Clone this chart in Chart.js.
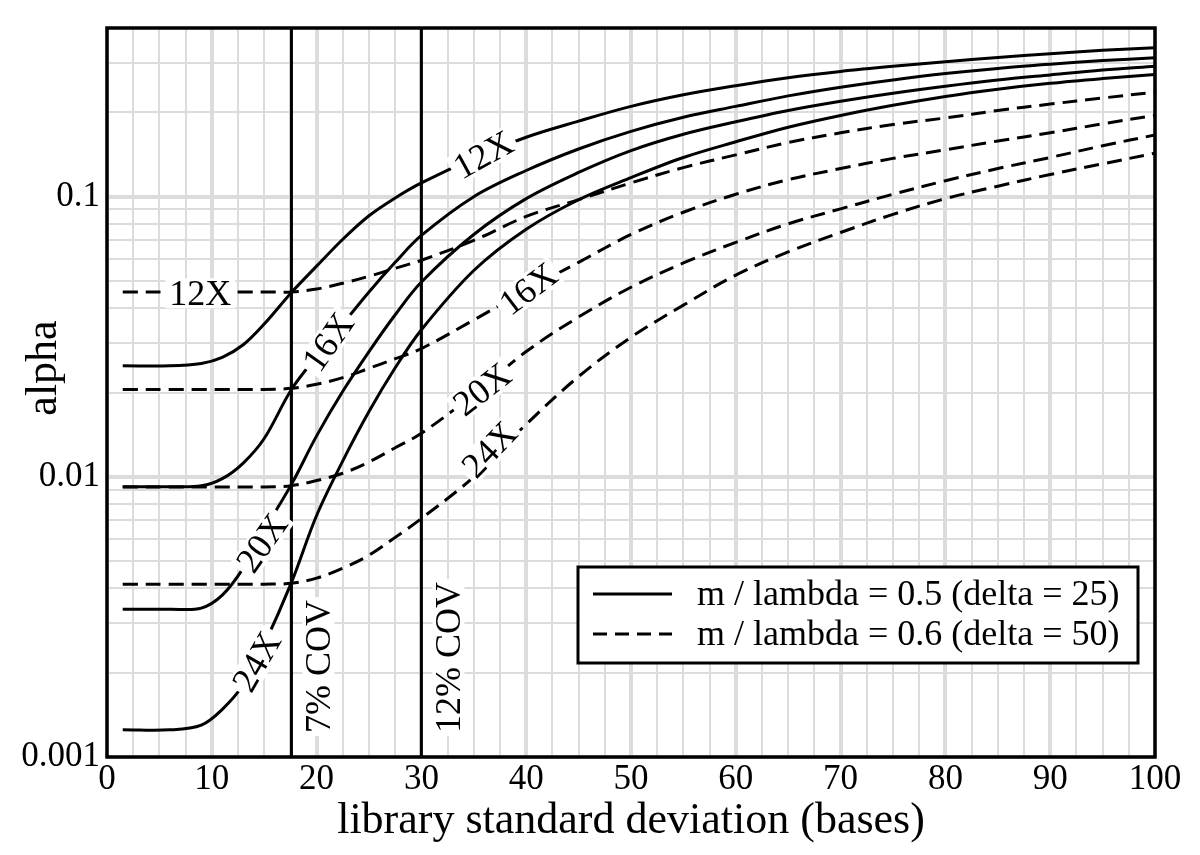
<!DOCTYPE html>
<html>
<head>
<meta charset="utf-8">
<script src="https://cdn.jsdelivr.net/npm/chart.js@4"></script>
<style>
  html, body { margin: 0; padding: 0; background: #fff; }
</style>
</head>
<body>
<canvas id="alphaChart" width="1200" height="855"></canvas>
<script>
// library standard deviation (bases) where each curve was read
const sdValues = [1.5, 6, 9, 11, 13, 15, 17.6, 20, 22.5, 25, 27.5, 30, 35, 40, 45, 50, 55, 60, 65, 70, 75, 80, 85, 90, 95, 100];

// m / lambda = 0.5 (delta = 25) -- solid
const solid12x = [0.0249, 0.0249, 0.0254, 0.0267, 0.0296, 0.0351, 0.0455, 0.0565, 0.0705, 0.0855, 0.099, 0.112, 0.137, 0.163, 0.186, 0.210, 0.231, 0.249, 0.266, 0.280, 0.292, 0.303, 0.314, 0.324, 0.333, 0.340];
const solid16x = [0.00922, 0.00922, 0.00929, 0.00985, 0.0112, 0.0137, 0.0205, 0.0269, 0.0351, 0.0457, 0.0583, 0.0727, 0.100, 0.124, 0.148, 0.171, 0.192, 0.210, 0.229, 0.246, 0.261, 0.275, 0.287, 0.297, 0.306, 0.313];
const solid20x = [0.00337, 0.00337, 0.0034, 0.00378, 0.00472, 0.00645, 0.0094, 0.0140, 0.0202, 0.0280, 0.0379, 0.0496, 0.0733, 0.0984, 0.122, 0.146, 0.167, 0.185, 0.203, 0.219, 0.234, 0.248, 0.261, 0.272, 0.283, 0.292];
const solid24x = [0.00125, 0.00125, 0.0013, 0.00148, 0.00181, 0.00252, 0.0042, 0.00728, 0.0114, 0.0171, 0.0245, 0.0335, 0.0545, 0.0765, 0.0975, 0.117, 0.138, 0.157, 0.177, 0.195, 0.212, 0.228, 0.242, 0.254, 0.264, 0.273];

// m / lambda = 0.6 (delta = 50) -- dashed
const dashed12x = [0.0457, 0.0457, 0.0457, 0.0457, 0.0457, 0.0457, 0.0457, 0.0468, 0.0491, 0.0520, 0.0555, 0.0593, 0.0698, 0.0850, 0.0976, 0.112, 0.127, 0.141, 0.156, 0.169, 0.181, 0.191, 0.203, 0.214, 0.225, 0.236];
const dashed16x = [0.0205, 0.0205, 0.0205, 0.0205, 0.0205, 0.0205, 0.0207, 0.0214, 0.0226, 0.0244, 0.0264, 0.0287, 0.0363, 0.0464, 0.0583, 0.0733, 0.088, 0.102, 0.115, 0.126, 0.137, 0.147, 0.158, 0.169, 0.182, 0.195];
const dashed20x = [0.0092, 0.0092, 0.0092, 0.0092, 0.0092, 0.0092, 0.0093, 0.0097, 0.0103, 0.0113, 0.0127, 0.0143, 0.0197, 0.0280, 0.0372, 0.0475, 0.058, 0.0687, 0.080, 0.0905, 0.102, 0.114, 0.126, 0.138, 0.152, 0.166];
const dashed24x = [0.00414, 0.00414, 0.00414, 0.00414, 0.00414, 0.00414, 0.00417, 0.00435, 0.00472, 0.00525, 0.00608, 0.00710, 0.0100, 0.0154, 0.0228, 0.0315, 0.041, 0.0525, 0.0635, 0.0745, 0.0865, 0.0984, 0.109, 0.120, 0.131, 0.143];

// vertical reference lines
const covLines = [17.6, 30];
const covLabels = ['7% COV', '12% COV'];

const seriesNames = ['m / lambda = 0.5 (delta = 25)', 'm / lambda = 0.6 (delta = 50)'];
const xTickLabels = ['0', '10', '20', '30', '40', '50', '60', '70', '80', '90', '100'];
const yTickLabels = ['0.001', '0.01', '0.1'];

// where the coverage labels sit on each curve
const curveLabels = [
  { text: '12X', x: 35.9, y: 0.141, angle: -29 },
  { text: '16X', x: 21.1, y: 0.0303, angle: -55 },
  { text: '20X', x: 14.8, y: 0.0058, angle: -55 },
  { text: '24X', x: 14.3, y: 0.00219, angle: -60 },
  { text: '12X', x: 8.9, y: 0.0452, angle: 0 },
  { text: '16X', x: 40.2, y: 0.0468, angle: -37 },
  { text: '20X', x: 35.8, y: 0.0205, angle: -38 },
  { text: '24X', x: 36.5, y: 0.0125, angle: -46 }
];

const serif = '"Liberation Serif", "DejaVu Serif", serif';
const DASH = [15, 8];

function toPoints(ys) {
  return sdValues.map((x, i) => ({ x: x, y: ys[i] }));
}

function curve(ys, dashed) {
  return {
    data: toPoints(ys),
    borderColor: '#000',
    borderWidth: 3,
    borderDash: dashed ? DASH : [],
    pointRadius: 0,
    tension: 0.35,
    fill: false
  };
}

const datasets = [
  curve(solid12x, false), curve(solid16x, false), curve(solid20x, false), curve(solid24x, false),
  curve(dashed12x, true), curve(dashed16x, true), curve(dashed20x, true), curve(dashed24x, true)
];
covLines.forEach(v => {
  datasets.push({
    data: [{ x: v, y: 0.001 }, { x: v, y: 0.4 }],
    borderColor: '#000',
    borderWidth: 3,
    pointRadius: 0
  });
});

// grid positions: every 2.5 bases, and 1..9 within each decade
const xGrid = [];
for (let v = 0; v <= 100; v += 2.5) xGrid.push(v);
const yGrid = [];
yTickLabels.map(Number).forEach(d => {
  for (let m = 1; m <= 9; m++) {
    const v = +(d * m).toPrecision(3);
    if (v <= 0.4) yGrid.push(v);
  }
});

function isDecade(v) {
  const l = Math.log10(v);
  return Math.abs(l - Math.round(l)) < 1e-6;
}

const overlayPlugin = {
  id: 'overlay',
  afterDatasetsDraw(chart) {
    const { ctx, chartArea: area, scales: { x, y } } = chart;
    ctx.save();
    ctx.font = '36px ' + serif;
    ctx.textAlign = 'center';
    ctx.textBaseline = 'middle';

    // labels riding on the curves
    curveLabels.forEach(l => {
      const px = x.getPixelForValue(l.x);
      const py = y.getPixelForValue(l.y);
      const w = ctx.measureText(l.text).width;
      ctx.save();
      ctx.translate(px, py);
      ctx.rotate(l.angle * Math.PI / 180);
      ctx.fillStyle = '#fff';
      ctx.fillRect(-w / 2 - 4, -15, w + 8, 30);
      ctx.fillStyle = '#000';
      ctx.fillText(l.text, 0, 2);
      ctx.restore();
    });

    // COV labels, reading upward, next to the lines
    covLines.forEach((v, i) => {
      const px = x.getPixelForValue(v) + 27;
      const py = area.bottom - 24;
      const w = ctx.measureText(covLabels[i]).width;
      ctx.save();
      ctx.translate(px, py);
      ctx.rotate(-Math.PI / 2);
      ctx.fillStyle = '#fff';
      ctx.fillRect(-3, -16, w + 6, 32);
      ctx.fillStyle = '#000';
      ctx.textAlign = 'left';
      ctx.fillText(covLabels[i], 0, 2);
      ctx.restore();
    });

    // frame around the plot
    ctx.strokeStyle = '#000';
    ctx.lineWidth = 3.5;
    ctx.strokeRect(area.left, area.top, area.right - area.left, area.bottom - area.top);

    // legend box
    const bx = area.right - 577, by = area.bottom - 190, bw = 560, bh = 96;
    ctx.fillStyle = '#fff';
    ctx.fillRect(bx, by, bw, bh);
    ctx.lineWidth = 3;
    ctx.strokeRect(bx, by, bw, bh);
    seriesNames.forEach((name, i) => {
      const ry = by + 27 + i * 40;
      ctx.beginPath();
      ctx.lineWidth = 3;
      ctx.setLineDash(i === 0 ? [] : [14, 8]);
      ctx.moveTo(bx + 15, ry);
      ctx.lineTo(bx + 94, ry);
      ctx.stroke();
      ctx.setLineDash([]);
      ctx.fillStyle = '#000';
      ctx.textAlign = 'left';
      ctx.fillText(name, bx + 119, ry + 2);
    });

    // y axis title
    ctx.save();
    ctx.font = '44px ' + serif;
    ctx.textAlign = 'center';
    ctx.translate(44, 368);
    ctx.rotate(-Math.PI / 2);
    ctx.fillText('alpha', 0, 0);
    ctx.restore();
    ctx.restore();
  }
};

new Chart(document.getElementById('alphaChart'), {
  type: 'line',
  data: { datasets: datasets },
  plugins: [overlayPlugin],
  options: {
    responsive: false,
    animation: false,
    layout: { padding: { left: 0, right: 45, top: 24, bottom: 0 } },
    plugins: { legend: { display: false }, tooltip: { enabled: false } },
    scales: {
      x: {
        type: 'linear',
        min: 0,
        max: 100,
        afterBuildTicks: axis => { axis.ticks = xGrid.map(v => ({ value: v })); },
        afterFit: axis => { axis.height = 98; },
        border: { display: false },
        grid: {
          color: '#dcdcdc',
          drawTicks: false,
          lineWidth: c => (c.tick && c.tick.value % 10 === 0 ? 4 : 2)
        },
        ticks: {
          autoSkip: false,
          maxRotation: 0,
          color: '#000',
          padding: 2,
          font: { family: serif, size: 35 },
          callback: v => (xTickLabels.includes(String(v)) ? String(v) : '')
        },
        title: {
          display: true,
          text: 'library standard deviation (bases)',
          color: '#000',
          font: { family: serif, size: 44 },
          padding: { top: 0, bottom: 7 }
        }
      },
      y: {
        type: 'logarithmic',
        min: 0.001,
        max: 0.4,
        afterBuildTicks: axis => { axis.ticks = yGrid.map(v => ({ value: v })); },
        afterFit: axis => { axis.width = 107; },
        border: { display: false },
        grid: {
          color: '#dcdcdc',
          drawTicks: false,
          lineWidth: c => (c.tick && isDecade(c.tick.value) ? 4 : 2)
        },
        ticks: {
          autoSkip: false,
          color: '#000',
          padding: 7,
          font: { family: serif, size: 35 },
          callback: v => yTickLabels.find(l => Math.abs(Number(l) - v) < 1e-9) || ''
        },
        title: { display: false }
      }
    }
  }
});
</script>
</body>
</html>
